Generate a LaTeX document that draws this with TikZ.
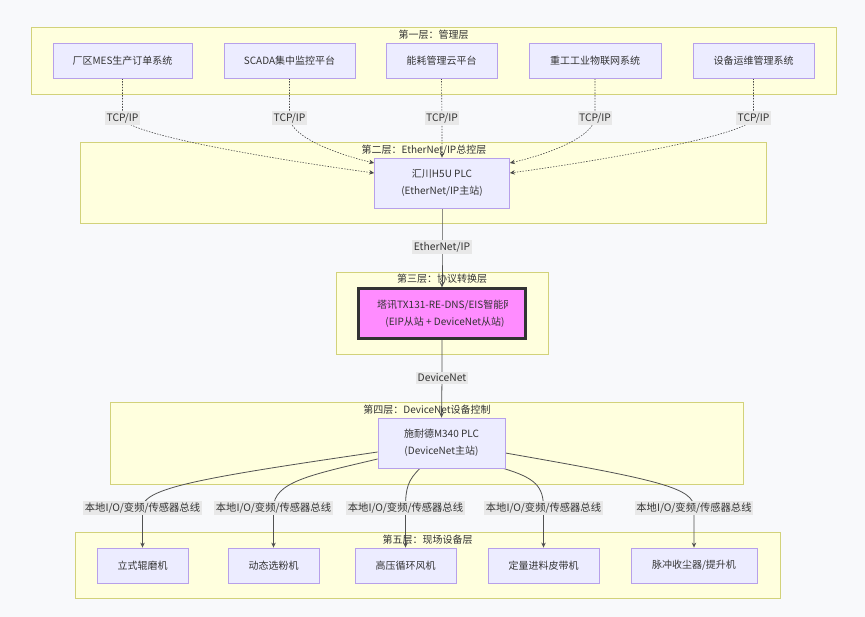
\documentclass[tikz,border=0pt]{standalone}
\usepackage{fontspec}
\setmainfont{Noto Sans CJK SC}
\usetikzlibrary{arrows.meta,calc}
\definecolor{bgc}{HTML}{F8F9FB}
\definecolor{clfill}{HTML}{FFFFDE}
\definecolor{cldraw}{HTML}{D2D27A}
\definecolor{nfill}{HTML}{ECECFF}
\definecolor{ndraw}{HTML}{B7A0EA}
\definecolor{txt}{HTML}{333333}
\definecolor{lbl}{HTML}{E8E8E8}
\definecolor{txfill}{HTML}{FF8CFF}
\pgfdeclarelayer{bg}
\pgfdeclarelayer{edges}
\pgfsetlayers{bg,edges,main}
\tikzset{
  box/.style={draw=ndraw, fill=nfill, line width=0.8pt, minimum height=35pt, align=center, inner sep=0pt, text=txt},
  cluster/.style={draw=cldraw, fill=clfill, line width=0.8pt},
  ctitle/.style={text=txt, inner sep=0pt, font=\fontsize{10}{12}\selectfont},
  elabel/.style={fill=lbl, inner xsep=1.5pt, inner ysep=2.2pt, text=txt, font=\fontsize{10.3}{12}\selectfont},
  dotedge/.style={draw=txt!90, dash pattern=on 1.4pt off 1.4pt, line width=0.6pt, -{Stealth[length=5pt,width=4.5pt]}},
  soledge/.style={draw=txt!85, line width=0.8pt, -{Stealth[length=5pt,width=4.5pt]}},
}
\begin{document}
\begin{tikzpicture}[x=1pt,y=-1pt,font=\fontsize{10}{13}\selectfont]
\useasboundingbox (0,0) rectangle (865,617);
% clusters
\begin{pgfonlayer}{bg}
\fill[bgc] (0,0) rectangle (865,617);
\draw[cluster] (31,27) rectangle (836,94);
\draw[cluster] (80,142) rectangle (766,223);
\draw[cluster] (336,272) rectangle (548,354);
\draw[cluster] (110,402) rectangle (743,484);
\draw[cluster] (75,532) rectangle (780,598);
\end{pgfonlayer}
\node[ctitle] (c1) at (433.5,35) {第一层：管理层};
\node[ctitle] (c2) at (424,150) {第二层：EtherNet/IP总控层};
\node[ctitle] (c3) at (442,279) {第三层：协议转换层};
\node[ctitle] (c4) at (427,410) {第四层：DeviceNet设备控制};
\node[ctitle] (c5) at (427.5,540) {第五层：现场设备层};
% layer 1
\node[box, minimum width=139pt] (n1) at (122.5,60.5) {厂区MES生产订单系统};
\node[box, minimum width=131pt] (n2) at (289.5,60.5) {SCADA集中监控平台};
\node[box, minimum width=111pt] (n3) at (441.5,60.5) {能耗管理云平台};
\node[box, minimum width=132pt] (n4) at (595,60.5) {重工工业物联网系统};
\node[box, minimum width=121pt] (n5) at (753.5,60.5) {设备运维管理系统};
% layer 2
\node[box, minimum width=135pt, minimum height=50pt, font=\fontsize{10}{17}\selectfont] (h5u) at (442,183) {汇川H5U PLC\\(EtherNet/IP主站)};
% layer 3
\node[draw=txt, fill=txfill, line width=2.2pt, minimum width=167pt, minimum height=50pt, inner sep=0pt] (tx) at (442,313.5) {};
\begin{scope}
\clip (377,292) rectangle (507,336);
\node[anchor=west, inner sep=0pt, text=txt] (tx1) at (377,305) {塔讯TX131-RE-DNS/EIS智能网关};
\end{scope}
\node[inner sep=0pt, text=txt] (tx2) at (445,322) {(EIP从站 + DeviceNet从站)};
% layer 4
\node[box, minimum width=127pt, minimum height=50pt, font=\fontsize{10}{17}\selectfont] (m340) at (441.5,443) {施耐德M340 PLC\\(DeviceNet主站)};
% layer 5
\node[box, minimum width=91pt] (f1) at (142.5,565.5) {立式辊磨机};
\node[box, minimum width=91pt] (f2) at (273.5,565.5) {动态选粉机};
\node[box, minimum width=101pt] (f3) at (405.5,565.5) {高压循环风机};
\node[box, minimum width=111pt] (f4) at (543.5,565.5) {定量进料皮带机};
\node[box, minimum width=126pt] (f5) at (694,565.5) {脉冲收尘器/提升机};
% edge labels
\node[elabel] (t1) at (122.5,118) {TCP/IP};
\node[elabel] (t2) at (289.5,118) {TCP/IP};
\node[elabel] (t3) at (442,118) {TCP/IP};
\node[elabel] (t4) at (595,118) {TCP/IP};
\node[elabel] (t5) at (753.5,118) {TCP/IP};
\node[elabel] (e1) at (442,247) {EtherNet/IP};
\node[elabel] (e2) at (442,378) {DeviceNet};
\node[elabel] (b1) at (142.5,508) {本地I/O/变频/传感器总线};
\node[elabel] (b2) at (273.5,508) {本地I/O/变频/传感器总线};
\node[elabel] (b3) at (405.5,508) {本地I/O/变频/传感器总线};
\node[elabel] (b4) at (543.5,508) {本地I/O/变频/传感器总线};
\node[elabel] (b5) at (694,508) {本地I/O/变频/传感器总线};
% edges
\begin{pgfonlayer}{edges}
\draw[dotedge] (n1.south) -- (t1.center) .. controls ($(t1.center)+(4,18)$) and (300,163) .. ($(h5u.west)+(0,-10)$);
\draw[dotedge] (n2.south) -- (t2.center) .. controls ($(t2.center)+(2,20)$) and (340,155) .. ($(h5u.west)+(0,-20)$);
\draw[dotedge] (n3.south) -- (t3.center) -- (h5u.north);
\draw[dotedge] (n4.south) -- (t4.center) .. controls ($(t4.center)+(-2,20)$) and (545,155) .. ($(h5u.east)+(0,-20)$);
\draw[dotedge] (n5.south) -- (t5.center) .. controls ($(t5.center)+(-4,18)$) and (585,163) .. ($(h5u.east)+(0,-10)$);
\draw[soledge] (h5u.south) -- (e1.center) -- (tx.north);
\draw[soledge] (tx.south) -- (e2.center) -- (m340.north);
\draw[soledge] ($(m340.west)+(0,9)$) .. controls (200,478) and (142.5,488) .. (b1.center) -- (f1.north);
\draw[soledge] ($(m340.west)+(0,16)$) .. controls (310,475) and (273.5,482) .. (b2.center) -- (f2.north);
\draw[soledge] ($(m340.south)+(-21.5,0)$) .. controls (408,480) and (405.5,488) .. (b3.center) -- (f3.north);
\draw[soledge] ($(m340.south east)+(-2,0)$) .. controls (535,478) and (543.5,486) .. (b4.center) -- (f4.north);
\draw[soledge] ($(m340.east)+(0,10)$) .. controls (660,480) and (694,488) .. (b5.center) -- (f5.north);
\end{pgfonlayer}
\end{tikzpicture}
\end{document}
